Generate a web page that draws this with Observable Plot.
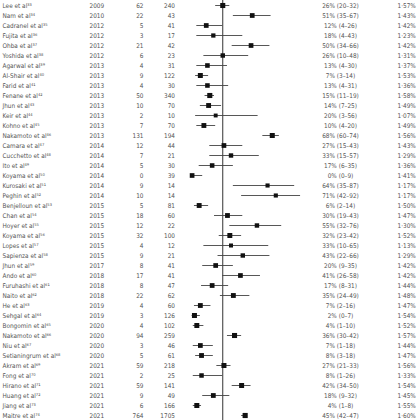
<!DOCTYPE html>
<html><head><meta charset="utf-8">
<script src="https://cdn.jsdelivr.net/npm/d3@7"></script>
<script src="https://cdn.jsdelivr.net/npm/@observablehq/plot@0.6"></script>
<style>body{margin:0;background:#fff} svg{display:block}</style>
</head><body><div id="chart"></div>
<script>
const studies = ["Lee","Nam","Cadranel","Fujita","Ohba","Yoshida","Agarwal","Al-Shair","Farid","Fenane","Jhun","Keir","Kohno","Nakamoto","Camara","Cucchetto","Ito","Koyama","Kurosaki","Peghin","Benjelloun","Chan","Hoyer","Koyama","Lopes","Sapienza","Jhun","Ando","Furuhashi","Naito","He","Sehgal","Bongomin","Nakamoto","Niu","Setianingrum","Akram","Fong","Hirano","Huang","Jiang","Maitre"];
const refs = [33,34,35,36,37,38,39,40,41,42,43,44,45,46,47,48,49,50,51,52,53,54,55,56,57,58,59,60,61,62,63,64,65,66,67,68,69,70,71,72,73,74];
const years = [2009,2010,2012,2012,2012,2012,2013,2013,2013,2013,2013,2013,2013,2013,2014,2014,2014,2014,2014,2014,2015,2015,2015,2015,2015,2015,2017,2018,2018,2018,2019,2019,2020,2020,2020,2020,2021,2021,2021,2021,2021,2021];
const events = [62,22,5,3,21,6,4,9,4,50,10,2,7,131,12,7,5,0,9,10,5,18,12,32,4,9,8,17,8,22,4,3,4,94,3,5,59,2,59,9,6,764];
const totals = [240,43,41,17,42,23,31,122,30,340,70,10,70,194,44,21,30,39,14,14,81,60,22,100,12,21,41,41,47,62,60,126,102,259,46,61,218,25,141,49,166,1705];
const estimates = [26,51,12,18,50,26,13,7,13,15,14,20,10,68,27,33,17,0,64,71,6,30,55,32,33,43,20,41,17,35,7,2,4,36,7,8,27,8,42,18,4,45];
const lowers = [20,35,4,4,34,10,4,3,4,11,7,3,4,60,15,15,6,0,35,42,2,19,32,23,10,22,9,26,8,24,2,0,1,30,1,3,21,1,34,9,1,42];
const uppers = [32,67,26,43,66,48,30,14,31,19,25,56,20,74,43,57,35,9,87,92,14,43,76,42,65,66,35,58,31,49,16,7,10,42,18,18,33,26,50,32,8,47];
const weights = [1.57,1.43,1.42,1.23,1.42,1.31,1.37,1.53,1.36,1.58,1.49,1.07,1.49,1.56,1.43,1.29,1.36,1.41,1.17,1.17,1.50,1.47,1.30,1.52,1.13,1.29,1.42,1.42,1.44,1.48,1.47,1.54,1.52,1.57,1.44,1.47,1.56,1.33,1.54,1.45,1.55,1.60];
const pooled = [26];

const supMap = {"0":"⁰","1":"¹","2":"²","3":"³","4":"⁴","5":"⁵","6":"⁶","7":"⁷","8":"⁸","9":"⁹"};
const sup = n => String(n).split("").map(c => supMap[c]).join("");
const rows = studies.map((s, i) => ({
  i,
  name: s + " et al" + sup(refs[i]),
  year: String(years[i]),
  events: String(events[i]),
  total: String(totals[i]),
  est: estimates[i], lo: lowers[i], hi: uppers[i], w: weights[i],
  estLabel: `${estimates[i]}% (${lowers[i]}–${uppers[i]})`,
  wLabel: weights[i].toFixed(2).replace(".", "·") + "%"
}));

const ML = 191.6, FS = 6.4, TC = "#555";
const txt = (field, dx, anchor) => Plot.text(rows, {y: "i", text: field, frameAnchor: "left", dx: dx - ML, textAnchor: anchor, fill: TC, fontSize: FS});

const chart = Plot.plot({
  width: 420, height: 420,
  marginLeft: ML, marginRight: 110.5, marginTop: 5, marginBottom: 5,
  x: {domain: [0, 100], axis: null},
  y: {type: "point", domain: d3.range(rows.length), padding: 0, axis: null},
  r: {type: "linear", domain: [1.0, 1.6], range: [2.1, 2.9]},
  style: {fontFamily: "'Liberation Sans Narrow', 'DejaVu Sans Condensed', 'Roboto', sans-serif", background: "#fff"},
  marks: [
    Plot.ruleX(pooled, {x: d => d, stroke: "#333", strokeWidth: 1, insetTop: -6, insetBottom: -6}),
    Plot.ruleY(rows, {y: "i", x1: "lo", x2: "hi", stroke: "#444", strokeWidth: 0.9}),
    Plot.dot(rows, {x: "est", y: "i", r: "w", symbol: "square", fill: "#111", stroke: "none"}),
    txt("name", 2, "start"),
    txt("year", 89, "start"),
    txt("events", 143, "end"),
    txt("total", 174.5, "end"),
    txt("estLabel", 340, "middle"),
    txt("wLabel", 397, "start")
  ]
});
document.getElementById("chart").appendChild(chart);
</script></body></html>
